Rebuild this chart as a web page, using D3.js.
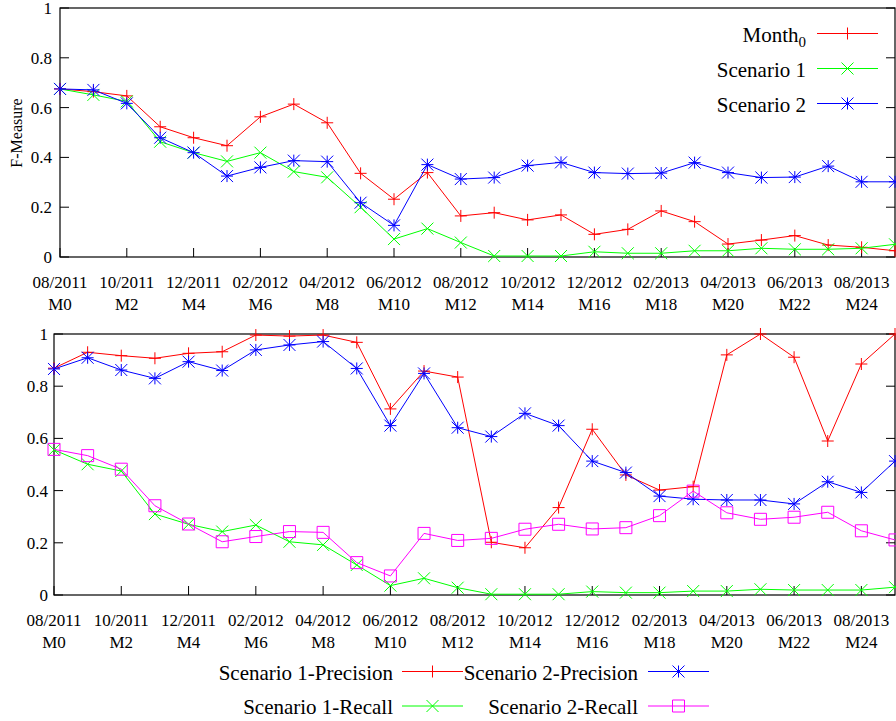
<!DOCTYPE html>
<html><head><meta charset="utf-8">
<script src="https://cdn.jsdelivr.net/npm/d3@7"></script>
<style>
body{margin:0;background:#fff;}
svg{display:block;}
</style></head>
<body><svg id="c" width="896" height="721" font-family="'Liberation Serif', 'DejaVu Serif', Times, serif"></svg>
<script>
const months = d3.range(0, 26);
const tickMonths = d3.range(0, 25, 2);
const dateLabels = ["08/2011","10/2011","12/2011","02/2012","04/2012","06/2012","08/2012","10/2012","12/2012","02/2013","04/2013","06/2013","08/2013"];
const monthLabels = tickMonths.map(m => "M" + m);
const yTicks = [0, 0.2, 0.4, 0.6, 0.8, 1];

// Top chart: F-Measure
const month0 = [0.675,0.664,0.647,0.523,0.479,0.447,0.563,0.614,0.539,0.336,0.232,0.339,0.165,0.178,0.149,0.169,0.091,0.111,0.185,0.142,0.052,0.068,0.086,0.048,0.039,0.025];
const scenario1 = [0.675,0.651,0.625,0.463,0.419,0.384,0.419,0.343,0.320,0.200,0.072,0.114,0.058,0.004,0.004,0.004,0.021,0.015,0.015,0.025,0.025,0.035,0.031,0.031,0.035,0.051];
const scenario2 = [0.675,0.671,0.617,0.479,0.419,0.325,0.360,0.387,0.383,0.218,0.127,0.371,0.313,0.319,0.367,0.380,0.339,0.335,0.337,0.379,0.339,0.319,0.321,0.365,0.302,0.302];

// Bottom chart: precision / recall
const s1Precision = [0.869,0.930,0.917,0.907,0.926,0.932,0.996,0.992,0.996,0.968,0.713,0.858,0.835,0.202,0.181,0.335,0.635,0.460,0.402,0.415,0.920,1.000,0.911,0.590,0.885,1.000];
const s2Precision = [0.866,0.909,0.862,0.830,0.894,0.860,0.939,0.958,0.971,0.868,0.649,0.849,0.641,0.607,0.696,0.649,0.513,0.469,0.379,0.367,0.364,0.364,0.349,0.434,0.393,0.513];
const s1Recall = [0.556,0.501,0.475,0.310,0.271,0.243,0.268,0.204,0.192,0.115,0.036,0.064,0.028,0.003,0.003,0.003,0.013,0.009,0.009,0.015,0.015,0.022,0.019,0.019,0.019,0.030];
const s2Recall = [0.558,0.534,0.482,0.342,0.272,0.204,0.224,0.243,0.240,0.124,0.073,0.236,0.209,0.217,0.252,0.271,0.253,0.258,0.304,0.398,0.315,0.290,0.298,0.317,0.246,0.211];

const RED="#ff0000", GREEN="#00ff00", BLUE="#0000ff", MAG="#ff00ff";
const svg = d3.select("#c");

function marker(g, type, x, y, color, s) {
  s = s || 6;
  const p = d3.path();
  if (type === "plus" || type === "star") {
    p.moveTo(x - s, y); p.lineTo(x + s, y);
    p.moveTo(x, y - s); p.lineTo(x, y + s);
  }
  if (type === "cross" || type === "star") {
    p.moveTo(x - s, y - s); p.lineTo(x + s, y + s);
    p.moveTo(x - s, y + s); p.lineTo(x + s, y - s);
  }
  if (type === "square") {
    p.moveTo(x - s, y - s); p.lineTo(x + s, y - s); p.lineTo(x + s, y + s); p.lineTo(x - s, y + s); p.closePath();
  }
  g.append("path").attr("d", p.toString()).attr("fill", "none").attr("stroke", color).attr("stroke-width", 1);
}

function chart(o) {
  const x = d3.scaleLinear().domain([0, 25]).range([o.left, o.right]);
  const y = d3.scaleLinear().domain([0, 1]).range([o.bottom, o.top]);
  const g = svg.append("g");
  const tl = 9;
  yTicks.forEach(t => {
    g.append("line").attr("x1", x(0)).attr("x2", x(0) + tl).attr("y1", y(t)).attr("y2", y(t)).attr("stroke", "#000");
    g.append("line").attr("x1", x(25)).attr("x2", x(25) - tl).attr("y1", y(t)).attr("y2", y(t)).attr("stroke", "#000");
    g.append("text").attr("x", o.left - o.ylabGap).attr("y", y(t)).attr("dy", "0.35em")
      .attr("text-anchor", "end").attr("font-size", 17).text(d3.format("")(t));
  });
  tickMonths.forEach((m, i) => {
    g.append("line").attr("x1", x(m)).attr("x2", x(m)).attr("y1", y(0)).attr("y2", y(0) - tl).attr("stroke", "#000");
    g.append("text").attr("x", x(m)).attr("y", o.bottom + 31).attr("text-anchor", "middle").attr("font-size", 17).text(dateLabels[i]);
    g.append("text").attr("x", x(m)).attr("y", o.bottom + 53).attr("text-anchor", "middle").attr("font-size", 17).text(monthLabels[i]);
  });
  g.append("rect").attr("x", o.left).attr("y", o.top).attr("width", o.right - o.left).attr("height", o.bottom - o.top)
    .attr("fill", "none").attr("stroke", "#000").attr("stroke-width", 1.2);
  const line = d3.line().x((d, i) => x(months[i])).y(d => y(d));
  o.series.forEach(s => {
    g.append("path").attr("d", line(s.values)).attr("fill", "none").attr("stroke", s.color).attr("stroke-width", 1);
    s.values.forEach((v, i) => marker(g, s.type, x(months[i]), y(v), s.color, s.size));
  });
  return {x, y, g};
}

const topChart = chart({left: 60, right: 895, top: 8, bottom: 257, ylabGap: 8, series: [
  {values: month0, color: RED, type: "plus"},
  {values: scenario1, color: GREEN, type: "cross"},
  {values: scenario2, color: BLUE, type: "star"}
]});
svg.append("text").attr("transform", "translate(22,133) rotate(-90)").attr("text-anchor", "middle")
  .attr("font-size", 16).text("F-Measure");

const bottomChart = chart({left: 54, right: 895, top: 334, bottom: 595, ylabGap: 6, series: [
  {values: s1Precision, color: RED, type: "plus"},
  {values: s2Precision, color: BLUE, type: "star"},
  {values: s1Recall, color: GREEN, type: "cross"},
  {values: s2Recall, color: MAG, type: "square"}
]});

function legendItem(textRight, lineY, x1, x2, color, type, label, sub) {
  const t = svg.append("text").attr("x", textRight).attr("y", lineY + 8).attr("text-anchor", "end").attr("font-size", 21);
  t.append("tspan").text(label);
  if (sub) t.append("tspan").attr("font-size", 15).attr("dy", 5).text(sub);
  svg.append("line").attr("x1", x1).attr("x2", x2).attr("y1", lineY).attr("y2", lineY).attr("stroke", color).attr("stroke-width", 1);
  marker(svg, type, (x1 + x2) / 2, lineY, color, 6);
}
legendItem(806, 33.5, 817, 878, RED, "plus", "Month", "0");
legendItem(806, 68.5, 817, 878, GREEN, "cross", "Scenario 1");
legendItem(806, 103.5, 817, 878, BLUE, "star", "Scenario 2");

legendItem(393, 671.5, 402, 463, RED, "plus", "Scenario 1-Precision");
legendItem(638, 671.5, 648, 709, BLUE, "star", "Scenario 2-Precision");
legendItem(393, 706, 402, 463, GREEN, "cross", "Scenario 1-Recall");
legendItem(638, 706, 648, 709, MAG, "square", "Scenario 2-Recall");
</script></body></html>
